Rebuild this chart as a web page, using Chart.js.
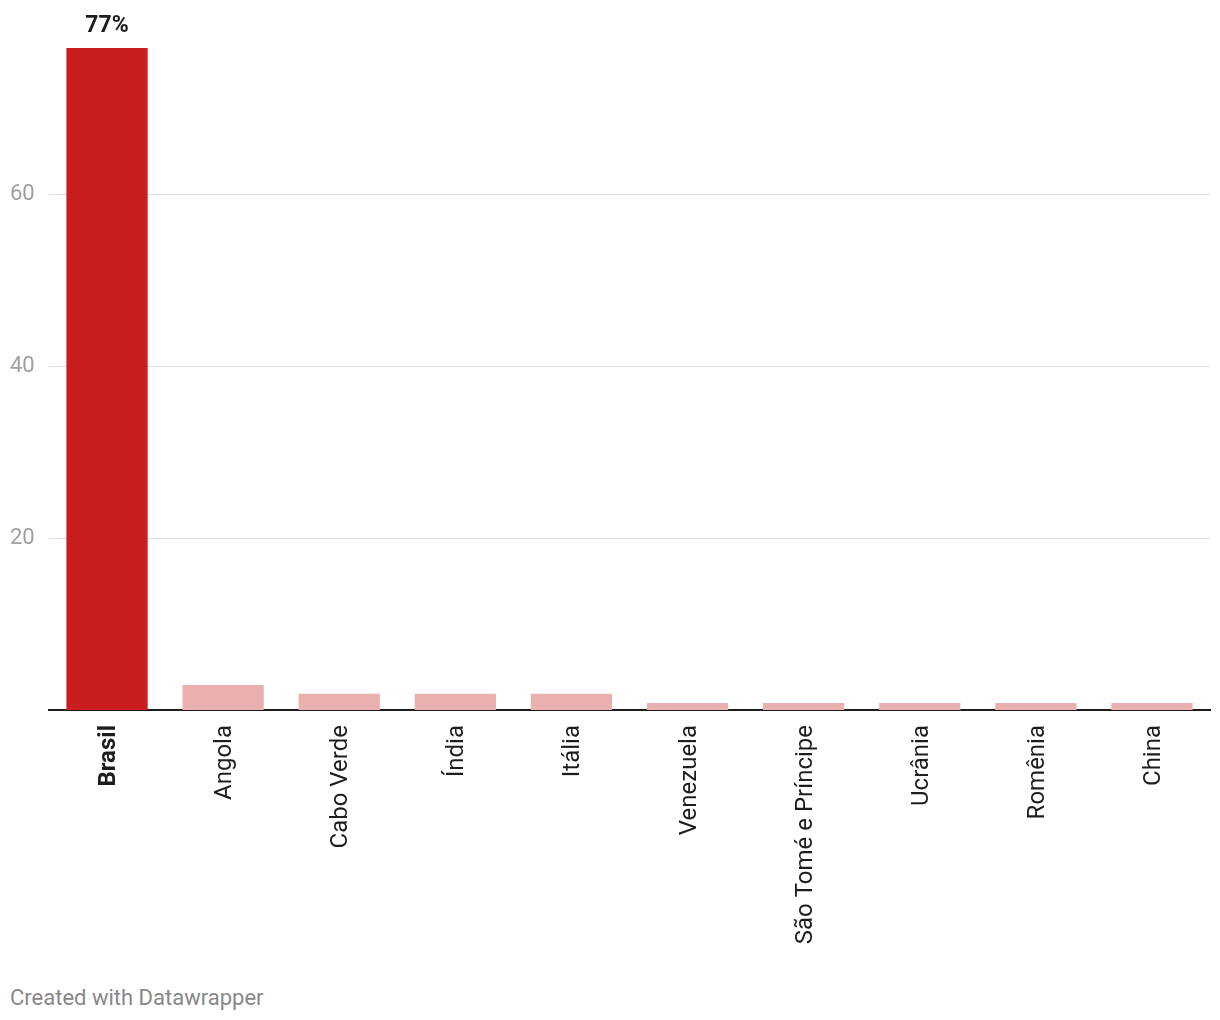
<!DOCTYPE html>
<html>
<head>
<meta charset="utf-8">
<script src="https://cdn.jsdelivr.net/npm/chart.js@4"></script>
<style>
  body { margin: 0; background: #fff; font-family: Roboto, sans-serif; }
  #wrap { position: relative; width: 1220px; height: 960px; }
  #footer { position: absolute; left: 10px; top: 985px; font-size: 22px; color: #888; }
</style>
</head>
<body>
<div id="wrap"><canvas id="chart"></canvas></div>
<div id="footer">Created with Datawrapper</div>
<script>
// categories and values (percent)
const countries = ['Brasil', 'Angola', 'Cabo Verde', 'Índia', 'Itália', 'Venezuela', 'São Tomé e Príncipe', 'Ucrânia', 'Romênia', 'China'];
const shares = [77, 2.9, 1.9, 1.9, 1.9, 0.8, 0.8, 0.8, 0.8, 0.8];
const yTicks = [20, 40, 60];

const barColors = countries.map((c, i) => i === 0 ? '#c91d1f' : '#eab0b0');

// draw the value label over the highlighted bar
const topLabel = {
    id: 'topLabel',
    afterDatasetsDraw(chart) {
        const bar = chart.getDatasetMeta(0).data[0];
        const ctx = chart.ctx;
        ctx.save();
        ctx.font = 'bold 23px Roboto';
        ctx.fillStyle = '#1d1d1d';
        ctx.textAlign = 'center';
        ctx.textBaseline = 'alphabetic';
        ctx.fillText(shares[0] + '%', bar.x, bar.y - 16);
        ctx.restore();
    }
};

new Chart(document.getElementById('chart'), {
    type: 'bar',
    data: {
        labels: countries,
        datasets: [{
            data: shares,
            backgroundColor: barColors,
            categoryPercentage: 1,
            barPercentage: 0.7
        }]
    },
    options: {
        responsive: true,
        maintainAspectRatio: false,
        animation: false,
        layout: { padding: { top: 48, left: 10, right: 10, bottom: 0 } },
        plugins: { legend: { display: false }, tooltip: { enabled: false } },
        scales: {
            x: {
                grid: { display: false },
                border: { display: true, color: '#1d1d1d', width: 2 },
                afterFit: scale => { scale.height = 250; },
                ticks: {
                    minRotation: 90,
                    maxRotation: 90,
                    padding: 7,
                    labelOffset: 2,
                    color: '#1d1d1d',
                    font: ctx => ({ family: 'Roboto', size: 24, weight: ctx.index === 0 ? 'bold' : 'normal' })
                }
            },
            y: {
                min: 0,
                max: 77,
                afterBuildTicks: scale => { scale.ticks = yTicks.map(v => ({ value: v })); },
                afterFit: scale => { scale.width = 39; },
                border: { display: false },
                grid: { color: '#e0e0e0', lineWidth: 1, drawTicks: false },
                ticks: {
                    crossAlign: 'far',
                    padding: 0,
                    color: '#a0a0a0',
                    font: { family: 'Roboto', size: 22 }
                }
            }
        }
    },
    plugins: [topLabel]
});
</script>
</body>
</html>
